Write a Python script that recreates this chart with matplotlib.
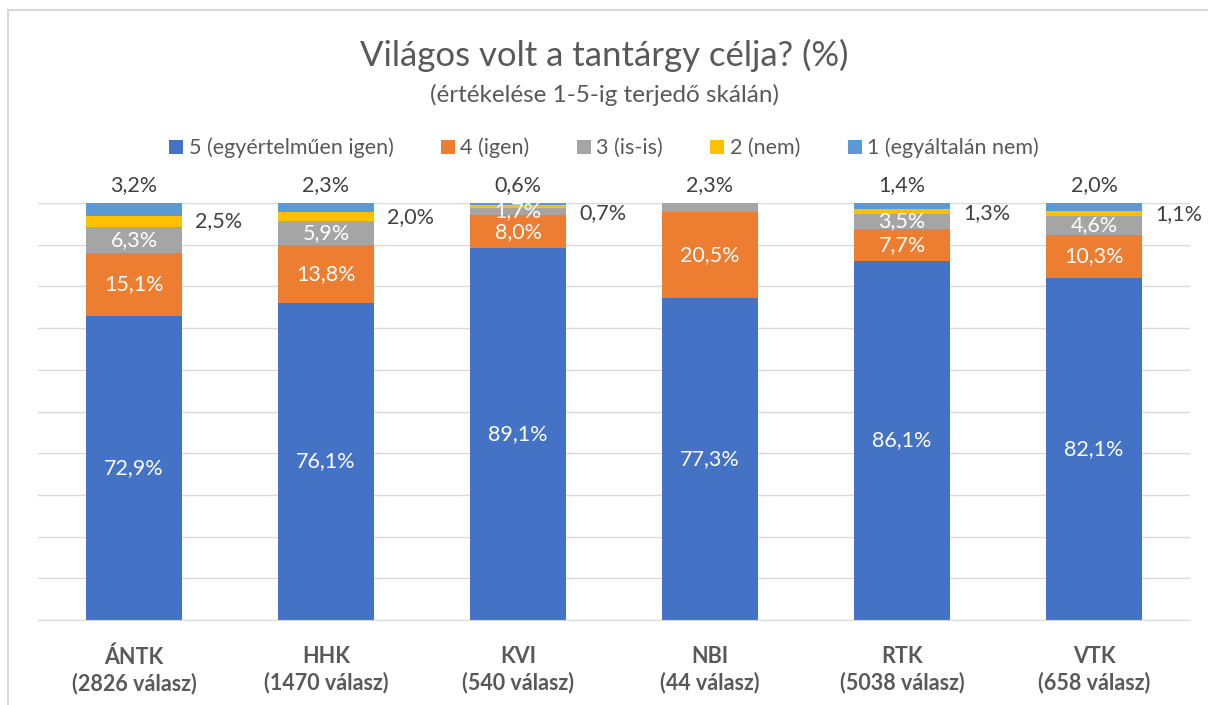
import matplotlib
matplotlib.use("Agg")
import matplotlib.pyplot as plt
from matplotlib.lines import Line2D

plt.rcParams['font.family'] = ['Lato', 'DejaVu Sans']

# Data
categories = ['ÁNTK\n(2826 válasz)', 'HHK\n(1470 válasz)', 'KVI\n(540 válasz)',
              'NBI\n(44 válasz)', 'RTK\n(5038 válasz)', 'VTK\n(658 válasz)']
series_names = ['5 (egyértelműen igen)', '4 (igen)', '3 (is-is)', '2 (nem)', '1 (egyáltalán nem)']
s5 = [72.9, 76.1, 89.1, 77.3, 86.1, 82.1]
s4 = [15.1, 13.8, 8.0, 20.5, 7.7, 10.3]
s3 = [6.3, 5.9, 1.7, 2.3, 3.5, 4.6]
s2 = [2.5, 2.0, 0.7, 0.0, 1.3, 1.1]
s1 = [3.2, 2.3, 0.6, 0.0, 1.4, 2.0]
colors = ['#4472C4', '#ED7D31', '#A5A5A5', '#FFC000', '#5B9BD5']

series = [s5, s4, s3, s2, s1]

fig = plt.figure(figsize=(12.08, 7.05), dpi=100)
ax = fig.add_axes([38 / 1208, 85 / 705, 1152 / 1208, 417 / 705])

x = list(range(len(categories)))
bottoms = [0.0] * len(categories)
for vals, name, col in zip(series, series_names, colors):
    ax.bar(x, vals, width=0.5, bottom=bottoms, color=col, label=name, zorder=2)
    bottoms = [b + v for b, v in zip(bottoms, vals)]

# inside labels (white)
lab_kw = dict(ha='center', va='center', color='white', fontsize=15.5)
for i in x:
    base = 0
    for k, vals in enumerate([s5, s4, s3]):
        v = vals[i]
        if k == 2 and i == 3:
            base += v
            continue
        ax.text(i, base + v / 2, f'{v:.1f}%'.replace('.', ','), **lab_kw)
        base += v

# outside labels
out_kw = dict(color='#404040', fontsize=15.5, clip_on=False)
for i in x:
    top_val = s1[i] if s1[i] > 0 else s3[i]
    ax.text(i, 104.3, f'{top_val:.1f}%'.replace('.', ','), ha='center', va='center', **out_kw)
    if s2[i] > 0:
        yc = min(100 - s1[i] - s2[i] / 2, 97.5)
        ax.text(i + 0.44, yc, f'{s2[i]:.1f}%'.replace('.', ','), ha='center', va='center', **out_kw)

ax.set_xlim(-0.5, len(categories) - 0.5)
ax.set_ylim(0, 100)
ax.set_yticks(range(0, 101, 10))
ax.set_yticklabels([])
ax.tick_params(axis='y', length=0)
ax.grid(axis='y', color='#D9D9D9', linewidth=1, zorder=0)
for s in ['top', 'left', 'right']:
    ax.spines[s].set_visible(False)
ax.spines['bottom'].set_color('#D9D9D9')
ax.set_xticks(x)
ax.set_xticklabels(categories, fontsize=15.5, fontweight='bold', color='#595959', linespacing=1.25)
ax.tick_params(axis='x', length=0, pad=19)

fig.text(0.5, 1 - 55 / 705, 'Világos volt a tantárgy célja? (%)', ha='center', va='center',
         fontsize=25, color='#595959')
fig.text(0.5, 1 - 95 / 705, '(értékelése 1-5-ig terjedő skálán)', ha='center', va='center',
         fontsize=17.5, color='#595959')

fig.legend(loc='center', bbox_to_anchor=(0.5, 1 - 148 / 705), ncol=5, frameon=False,
           fontsize=15.5, handlelength=0.65, handleheight=0.65, handletextpad=0.25,
           columnspacing=2.2, labelcolor='#595959')

# chart border
fig.add_artist(Line2D([8 / 1208, 8 / 1208], [0, 1 - 10 / 705], color='#D9D9D9', lw=1.5))
fig.add_artist(Line2D([8 / 1208, 1], [1 - 10 / 705, 1 - 10 / 705], color='#D9D9D9', lw=1.5))

fig.savefig('out.png', dpi=100)
